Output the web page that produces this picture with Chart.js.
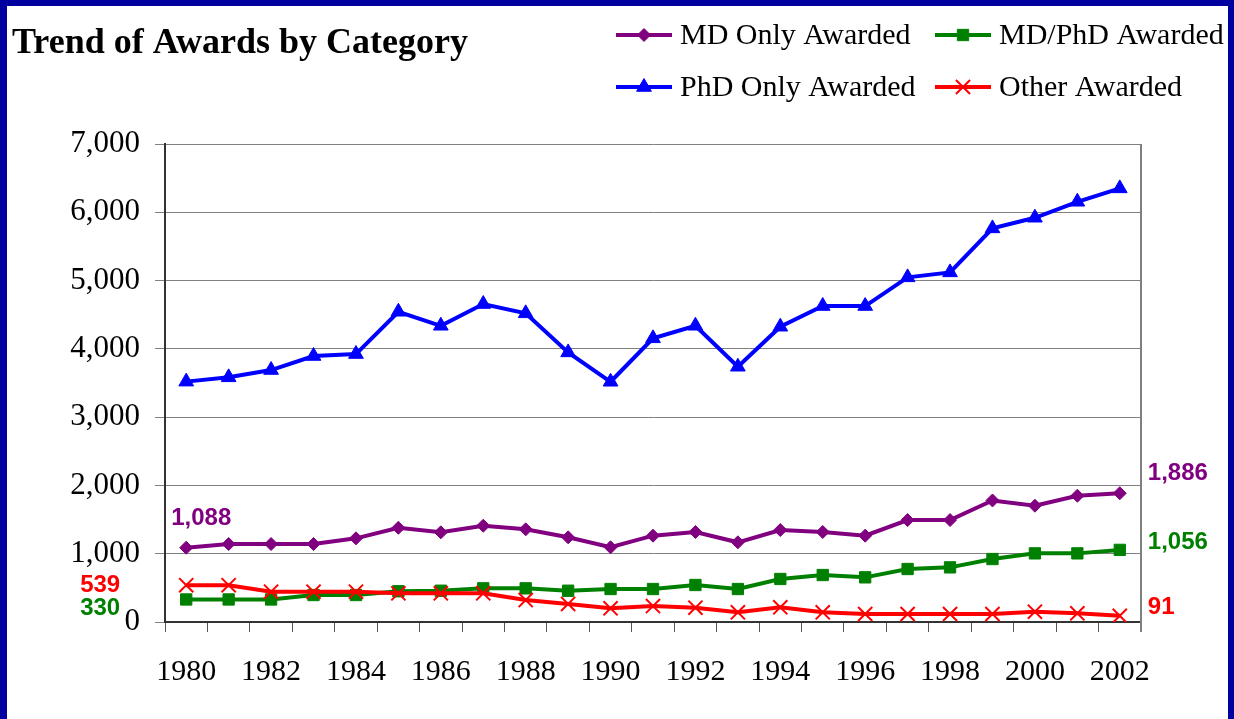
<!DOCTYPE html>
<html>
<head>
<meta charset="utf-8">
<script src="https://cdn.jsdelivr.net/npm/chart.js@4.4.1/dist/chart.umd.min.js"></script>
<style>
html, body { margin: 0; padding: 0; background: #fff; }
#wrap { position: relative; width: 1234px; height: 719px; }
#frame { position: absolute; left: 0; top: 0; width: 1234px; height: 719px; box-sizing: border-box;
         border-left: 7px solid #0000a0; border-top: 6px solid #0000a0; border-right: 6px solid #0000a0;
         pointer-events: none; }
</style>
</head>
<body>
<div id="wrap"><canvas id="chart" width="1234" height="719"></canvas><div id="frame"></div></div>
<script>
const years = ["1980", "1981", "1982", "1983", "1984", "1985", "1986", "1987", "1988", "1989", "1990", "1991",
               "1992", "1993", "1994", "1995", "1996", "1997", "1998", "1999", "2000", "2001", "2002"];

const mdOnly  = [1088, 1142, 1142, 1142, 1225, 1380, 1313, 1410, 1357, 1240, 1094, 1264,
                 1318, 1167, 1347, 1318, 1264, 1493, 1493, 1780, 1703, 1849, 1886];
const mdPhd   = [330, 330, 330, 395, 395, 450, 458, 493, 493, 458, 483, 483,
                 542, 483, 630, 688, 654, 776, 800, 922, 1005, 1005, 1056];
const phdOnly = [3520, 3583, 3690, 3895, 3924, 4543, 4338, 4656, 4520, 3948, 3518, 4154,
                 4338, 3738, 4324, 4627, 4627, 5047, 5120, 5764, 5920, 6154, 6350];
const other   = [539, 539, 444, 444, 444, 420, 420, 420, 322, 264, 200, 234,
                 210, 142, 215, 142, 117, 117, 117, 117, 151, 127, 91];

const yTicks = [0, 1000, 2000, 3000, 4000, 5000, 6000, 7000];

const SERIF = "'Liberation Serif', 'Times New Roman', serif";
const SANS = "'Liberation Sans', Arial, sans-serif";

function series(label, data, color, style, radius, order) {
    return {
        label: label,
        data: data,
        borderColor: color,
        backgroundColor: color,
        borderWidth: 4,
        pointStyle: style,
        pointRadius: radius,
        pointBackgroundColor: color,
        pointBorderColor: color,
        pointBorderWidth: style === "crossRot" ? 2 : 1,
        tension: 0,
        order: order
    };
}

// title + two-row legend at the top
const header = {
    id: "header",
    afterDraw(chart) {
        const ctx = chart.ctx;
        ctx.save();
        ctx.fillStyle = "#000";
        ctx.font = "bold 36px " + SERIF;
        ctx.textBaseline = "alphabetic";
        ctx.textAlign = "left";
        ctx.fillText("Trend of Awards by Category", 12, 53);

        const slots = [[616, 35], [935, 35], [616, 87], [935, 87]];
        ctx.font = "30px " + SERIF;
        ctx.textBaseline = "middle";
        slots.forEach(([x, y], di) => {
            const ds = chart.data.datasets[di];
            ctx.strokeStyle = ds.borderColor;
            ctx.lineWidth = 4;
            ctx.beginPath();
            ctx.moveTo(x, y);
            ctx.lineTo(x + 56, y);
            ctx.stroke();
            ctx.fillStyle = ds.borderColor;
            ctx.lineWidth = ds.pointBorderWidth;
            Chart.helpers.drawPoint(ctx, {
                pointStyle: ds.pointStyle, radius: ds.pointRadius,
                rotation: 0, borderWidth: ds.pointBorderWidth
            }, x + 28, y);
            ctx.fillStyle = "#000";
            ctx.fillText(ds.label, x + 64, y + 1);
        });
        ctx.restore();
    }
};

// gray right edge of the plot
const plotEdge = {
    id: "plotEdge",
    beforeDatasetsDraw(chart) {
        const a = chart.chartArea, ctx = chart.ctx;
        ctx.save();
        ctx.strokeStyle = "#808080";
        ctx.lineWidth = 2;
        ctx.beginPath();
        ctx.moveTo(a.right, a.top);
        ctx.lineTo(a.right, a.bottom + 10);
        ctx.stroke();
        ctx.restore();
    }
};

// first / last value call-outs
const callouts = [
    { ds: 0, last: false, dx: -15, dy: -29, align: "left" },
    { ds: 3, last: false, dx: -66, dy: 0,   align: "right" },
    { ds: 1, last: false, dx: -66, dy: 9,   align: "right" },
    { ds: 0, last: true,  dx: 28,  dy: -20, align: "left" },
    { ds: 1, last: true,  dx: 28,  dy: -8,  align: "left" },
    { ds: 3, last: true,  dx: 28,  dy: -8,  align: "left" }
];
const valueLabels = {
    id: "valueLabels",
    afterDatasetsDraw(chart) {
        const ctx = chart.ctx;
        ctx.save();
        ctx.font = "bold 24px " + SANS;
        ctx.textBaseline = "middle";
        callouts.forEach(c => {
            const ds = chart.data.datasets[c.ds];
            const pts = chart.getDatasetMeta(c.ds).data;
            const i = c.last ? pts.length - 1 : 0;
            ctx.fillStyle = ds.borderColor;
            ctx.textAlign = c.align;
            ctx.fillText(ds.data[i].toLocaleString("en-US"), pts[i].x + c.dx, pts[i].y + c.dy);
        });
        ctx.restore();
    }
};

new Chart(document.getElementById("chart"), {
    type: "line",
    data: {
        labels: years,
        datasets: [
            series("MD Only Awarded", mdOnly, "#800080", "rectRot", 6.5, 2),
            series("MD/PhD Awarded", mdPhd, "#008000", "rect", 8, 3),
            series("PhD Only Awarded", phdOnly, "#0000ff", "triangle", 8.5, 4),
            series("Other Awarded", other, "#ff0000", "crossRot", 10, 1)
        ]
    },
    options: {
        responsive: false,
        animation: false,
        layout: { padding: { top: 144, right: 93, bottom: 0, left: 0 } },
        plugins: {
            legend: { display: false },
            title: { display: false },
            tooltip: { enabled: false }
        },
        scales: {
            x: {
                offset: true,
                grid: { offset: true, drawOnChartArea: false, tickLength: 10, color: "#555", lineWidth: 1 },
                border: { color: "#333", width: 2 },
                ticks: {
                    autoSkip: false, maxRotation: 0, padding: 22, color: "#000",
                    font: { family: SERIF, size: 30 },
                    callback: (v, i) => (i % 2 === 0 ? years[i] : "")
                },
                afterFit: s => { s.height = 97; }
            },
            y: {
                min: 0,
                max: 7000,
                afterBuildTicks: s => { s.ticks = yTicks.map(v => ({ value: v })); },
                ticks: {
                    padding: 15, color: "#000",
                    font: { family: SERIF, size: 31 },
                    callback: v => v.toLocaleString("en-US")
                },
                grid: { color: "#808080", lineWidth: 1, tickLength: 10 },
                border: { color: "#333", width: 2 },
                afterFit: s => { s.width = 165; }
            }
        }
    },
    plugins: [header, plotEdge, valueLabels]
});
</script>
</body>
</html>
